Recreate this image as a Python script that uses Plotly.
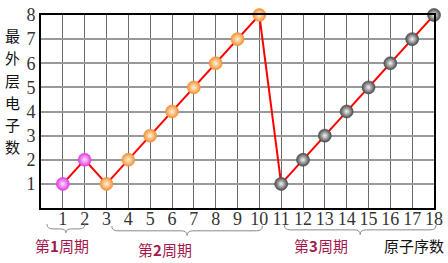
import plotly.graph_objects as go

# ---- data ----
atomic_numbers = list(range(1, 19))
outer_electrons = [1, 2, 1, 2, 3, 4, 5, 6, 7, 8, 1, 2, 3, 4, 5, 6, 7, 8]
period1_x = [1, 2]
period1_y = [1, 2]
period2_x = [3, 4, 5, 6, 7, 8, 9, 10]
period2_y = [1, 2, 3, 4, 5, 6, 7, 8]
period3_x = [11, 12, 13, 14, 15, 16, 17, 18]
period3_y = [1, 2, 3, 4, 5, 6, 7, 8]
x_ticks = list(range(1, 19))
y_ticks = list(range(1, 9))
y_title_chars = ["最", "外", "层", "电", "子", "数"]

W, H = 448, 263
ML, MR, MT, MB = 41, 13, 5, 55
PW, PH = W - ML - MR, H - MT - MB


def px(x):
    return (x - ML) / PW


def py(y):
    return (H - MB - y) / PH


fig = go.Figure()
fig.add_trace(go.Scatter(x=atomic_numbers, y=outer_electrons, mode="lines",
                         line=dict(color="#ff0000", width=2), hoverinfo="skip",
                         showlegend=False))

for xs, ys, edge, center in [
    (period1_x, period1_y, "#e23be2", "#ffe0ff"),
    (period2_x, period2_y, "#f39235", "#fff3dc"),
    (period3_x, period3_y, "#4a4a4a", "#f4f4f4"),
]:
    fig.add_trace(go.Scatter(
        x=xs, y=ys, mode="markers", showlegend=False, cliponaxis=False,
        marker=dict(size=13, color=edge,
                    gradient=dict(type="radial", color=center),
                    line=dict(color=edge, width=0.6))))


def brace(x0, x1, ytop, ymid, ytip):
    xm = (x0 + x1) / 2
    r = 6
    pts = [
        f"M {px(x0)},{py(ytop)}",
        f"Q {px(x0)},{py(ymid)} {px(x0 + r)},{py(ymid)}",
        f"L {px(xm - r)},{py(ymid)}",
        f"Q {px(xm)},{py(ymid)} {px(xm)},{py(ytip)}",
        f"Q {px(xm)},{py(ymid)} {px(xm + r)},{py(ymid)}",
        f"L {px(x1 - r)},{py(ymid)}",
        f"Q {px(x1)},{py(ymid)} {px(x1)},{py(ytop)}",
    ]
    return dict(type="path", xref="paper", yref="paper", path=" ".join(pts),
                line=dict(color="#8a8a8a", width=1))


shapes = [
    brace(47, 85, 225, 230, 234),
    brace(112, 263, 227, 232, 237),
    brace(285, 437, 226, 231, 236),
]

annotations = []
for i, ch in enumerate(y_title_chars):
    annotations.append(dict(x=px(12), y=py(27 + i * 23.2), xref="paper", yref="paper",
                            xanchor="center", yanchor="middle",
                            text=ch, showarrow=False,
                            font=dict(family="Noto Sans CJK SC", size=15, color="#111")))

for txt, cx, cy, col in [
    ("第<b>1</b>周期", 62, 247, "#a3184d"),
    ("第<b>2</b>周期", 165, 252, "#a3184d"),
    ("第<b>3</b>周期", 322, 247, "#a3184d"),
    ("原子序数", 415, 247, "#111111"),
]:
    annotations.append(dict(x=px(cx), y=py(cy), xref="paper", yref="paper",
                            xanchor="center", yanchor="middle",
                            text=txt, showarrow=False,
                            font=dict(family="Noto Sans CJK SC", size=15, color=col)))

fig.update_layout(
    width=W, height=H,
    margin=dict(l=ML, r=MR, t=MT, b=MB),
    paper_bgcolor="white", plot_bgcolor="white",
    shapes=shapes, annotations=annotations,
    xaxis=dict(range=[0, 18], tickmode="array", tickvals=x_ticks,
               ticktext=[str(v) for v in x_ticks],
               showgrid=True, gridcolor="#6a6a6a", gridwidth=1,
               showline=True, linecolor="black", linewidth=2, mirror=True,
               zeroline=False, ticks="", ticklabeloverflow="allow",
               ticklabelstandoff=-7,
               tickfont=dict(family="Liberation Serif", size=18, color="#333")),
    yaxis=dict(range=[0, 8], tickmode="array", tickvals=y_ticks,
               ticktext=[str(v) for v in y_ticks],
               showgrid=True, gridcolor="#999999", gridwidth=2,
               showline=True, linecolor="black", linewidth=2, mirror=True,
               zeroline=False, ticks="", ticklabeloverflow="allow",
               tickfont=dict(family="Liberation Serif", size=18, color="#333")),
)

fig.write_html("out.html")
